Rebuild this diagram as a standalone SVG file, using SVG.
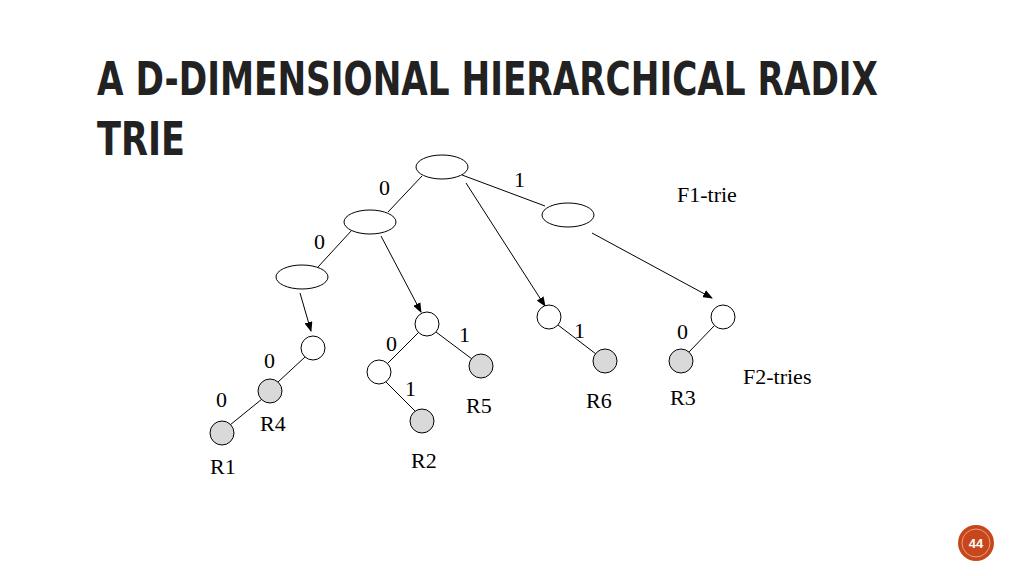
<svg xmlns="http://www.w3.org/2000/svg" width="1024" height="576" viewBox="0 0 1024 576">
<style>
.t{font-family:"Liberation Serif",serif;font-size:22px;fill:#000}
.h{font-family:"Liberation Sans Narrow","DejaVu Sans Condensed",sans-serif;font-weight:bold;font-size:46px;fill:#222}
.n{fill:#fff;stroke:#000;stroke-width:1}
.g{fill:#d9d9d9;stroke:#000;stroke-width:1}
.e{stroke:#000;stroke-width:1;fill:none}
</style>
<defs><marker id="a" markerWidth="10" markerHeight="8" refX="9" refY="4" orient="auto" markerUnits="userSpaceOnUse"><path d="M0,0L10,4L0,8z" fill="#000"/></marker></defs>
<rect width="1024" height="576" fill="#fff"/>
<text class="h" x="97" y="95" textLength="781" lengthAdjust="spacingAndGlyphs">A D-DIMENSIONAL HIERARCHICAL RADIX</text>
<text class="h" x="97" y="155" textLength="88" lengthAdjust="spacingAndGlyphs">TRIE</text>
<g id="connectors">
<line class="e" x1="422" y1="176" x2="388" y2="212"/>
<line class="e" x1="462" y1="175" x2="545" y2="206"/>
<line class="e" x1="466" y1="183" x2="545" y2="306" marker-end="url(#a)"/>
<line class="e" x1="352" y1="230" x2="318" y2="267"/>
<line class="e" x1="381" y1="236" x2="421" y2="312" marker-end="url(#a)"/>
<line class="e" x1="300" y1="293" x2="311" y2="331" marker-end="url(#a)"/>
<line class="e" x1="592" y1="233" x2="712" y2="298" marker-end="url(#a)"/>
<line class="e" x1="305" y1="357" x2="278" y2="382"/>
<line class="e" x1="262" y1="399" x2="230" y2="425"/>
<line class="e" x1="419" y1="332" x2="387" y2="364"/>
<line class="e" x1="436" y1="332" x2="472" y2="359"/>
<line class="e" x1="386" y1="382" x2="415" y2="411"/>
<line class="e" x1="558" y1="325" x2="596" y2="354"/>
<line class="e" x1="714" y1="326" x2="689" y2="352"/>
</g>
<g id="root"><ellipse class="n" cx="442" cy="167" rx="26" ry="12"/></g>
<g id="f1l"><ellipse class="n" cx="370" cy="222" rx="26" ry="12"/></g>
<g id="f1r"><ellipse class="n" cx="568" cy="215" rx="26" ry="12"/></g>
<g id="f1ll"><ellipse class="n" cx="302" cy="277" rx="26" ry="12"/></g>
<g id="c1"><circle class="n" cx="313" cy="348" r="12"/></g>
<g id="c2"><circle class="n" cx="427" cy="324" r="12"/></g>
<g id="c3"><circle class="n" cx="549" cy="317" r="12"/></g>
<g id="c4"><circle class="n" cx="723" cy="317" r="12"/></g>
<g id="r4"><circle class="g" cx="270" cy="391" r="12"/></g>
<g id="c5"><circle class="n" cx="379" cy="372" r="12"/></g>
<g id="r5"><circle class="g" cx="481" cy="366" r="12"/></g>
<g id="r6"><circle class="g" cx="605" cy="361" r="12"/></g>
<g id="r3"><circle class="g" cx="681" cy="361" r="12"/></g>
<g id="r1"><circle class="g" cx="222" cy="433" r="12"/></g>
<g id="r2"><circle class="g" cx="422" cy="421" r="12"/></g>
<g id="labels">
<text class="t" x="379" y="195">0</text>
<text class="t" x="514" y="187">1</text>
<text class="t" x="314" y="249">0</text>
<text class="t" x="264" y="368">0</text>
<text class="t" x="216" y="407">0</text>
<text class="t" x="386" y="351">0</text>
<text class="t" x="459" y="342">1</text>
<text class="t" x="405" y="396">1</text>
<text class="t" x="574" y="338">1</text>
<text class="t" x="677" y="339">0</text>
<text class="t" x="260" y="431">R4</text>
<text class="t" x="210" y="474">R1</text>
<text class="t" x="411" y="468">R2</text>
<text class="t" x="466" y="413">R5</text>
<text class="t" x="586" y="408">R6</text>
<text class="t" x="670" y="405">R3</text>
<text class="t" x="677" y="202">F1-trie</text>
<text class="t" x="743" y="384">F2-tries</text>
</g>
<g id="page">
<circle cx="976" cy="543" r="18" fill="#c8461c"/>
<circle cx="976" cy="543" r="14" fill="none" stroke="#e8a080" stroke-width="1"/>
<text x="976" y="548" text-anchor="middle" font-family="Liberation Sans Narrow,Liberation Sans,sans-serif" font-weight="bold" font-size="13" fill="#fff">44</text>
</g>
</svg>
